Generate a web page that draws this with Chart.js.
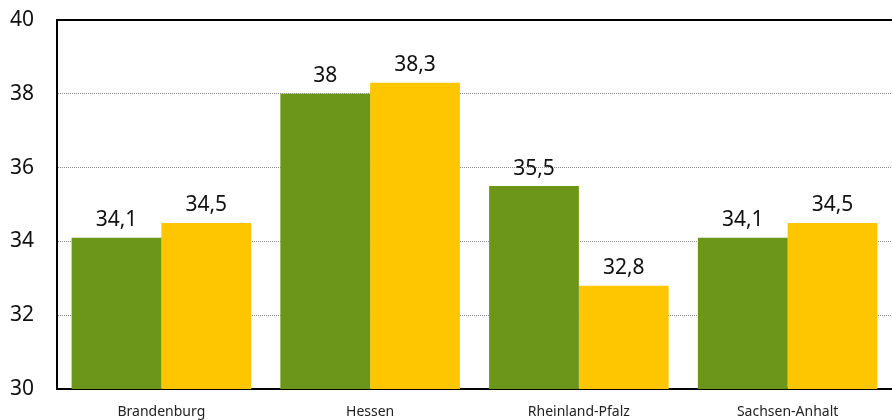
<!DOCTYPE html>
<html>
<head>
<meta charset="utf-8">
<script src="https://cdn.jsdelivr.net/npm/chart.js@4"></script>
<style>
  html, body { margin: 0; padding: 0; background: #fff; }
  #wrap { width: 892px; height: 420px; position: relative; }
</style>
</head>
<body>
<div id="wrap"><canvas id="chart"></canvas></div>
<script>
// Data
const states = ['Brandenburg', 'Hessen', 'Rheinland-Pfalz', 'Sachsen-Anhalt'];
const seriesA = [34.1, 38, 35.5, 34.1];
const seriesB = [34.5, 38.3, 32.8, 34.5];
const yTicks = [30, 32, 34, 36, 38, 40];

const GREEN = '#6b961a';
const YELLOW = '#fdc600';
const FONT = '"Noto Sans", "DejaVu Sans", sans-serif';

const fmtDe = v => String(v).replace('.', ',');

// value labels above each bar + top frame line
const barLabels = {
  id: 'barLabels',
  afterDatasetsDraw(chart) {
    const { ctx, chartArea } = chart;
    ctx.save();
    ctx.strokeStyle = '#000';
    ctx.lineWidth = 2;
    ctx.beginPath();
    ctx.moveTo(chartArea.left, chartArea.top);
    ctx.lineTo(chartArea.right, chartArea.top);
    ctx.stroke();

    ctx.fillStyle = '#111';
    ctx.font = '21px ' + FONT;
    ctx.textAlign = 'center';
    ctx.textBaseline = 'bottom';
    chart.data.datasets.forEach((ds, di) => {
      chart.getDatasetMeta(di).data.forEach((bar, i) => {
        ctx.fillText(fmtDe(ds.data[i]), bar.x, bar.y - 7);
      });
    });
    ctx.restore();
  }
};

const ctx = document.getElementById('chart').getContext('2d');
new Chart(ctx, {
  type: 'bar',
  data: {
    labels: states,
    datasets: [
      { data: seriesA, backgroundColor: GREEN, categoryPercentage: 0.86, barPercentage: 1 },
      { data: seriesB, backgroundColor: YELLOW, categoryPercentage: 0.86, barPercentage: 1 }
    ]
  },
  options: {
    responsive: true,
    maintainAspectRatio: false,
    animation: false,
    layout: { padding: { top: 20, right: 0, left: 10, bottom: 0 } },
    plugins: { legend: { display: false }, tooltip: { enabled: false } },
    scales: {
      x: {
        grid: { display: false },
        border: { color: '#000', width: 2 },
        ticks: { color: '#222', font: { family: FONT, size: 14 }, padding: 7 },
        afterFit(s) { s.height = 31; }
      },
      y: {
        min: 30,
        max: 40,
        afterBuildTicks(s) { s.ticks = yTicks.map(v => ({ value: v })); },
        grid: {
          color: c => (c.tick && (c.tick.value === 30 || c.tick.value === 40)) ? 'rgba(0,0,0,0)' : '#8a8a8a',
          lineWidth: 1,
          drawTicks: false
        },
        border: { color: '#000', width: 2, dash: [1, 1] },
        ticks: {
          color: '#111',
          font: { family: FONT, size: 21 },
          crossAlign: 'far',
          padding: 4,
          callback: v => v
        },
        afterFit(s) { s.width = 47; }
      }
    }
  },
  plugins: [barLabels]
});
</script>
</body>
</html>
